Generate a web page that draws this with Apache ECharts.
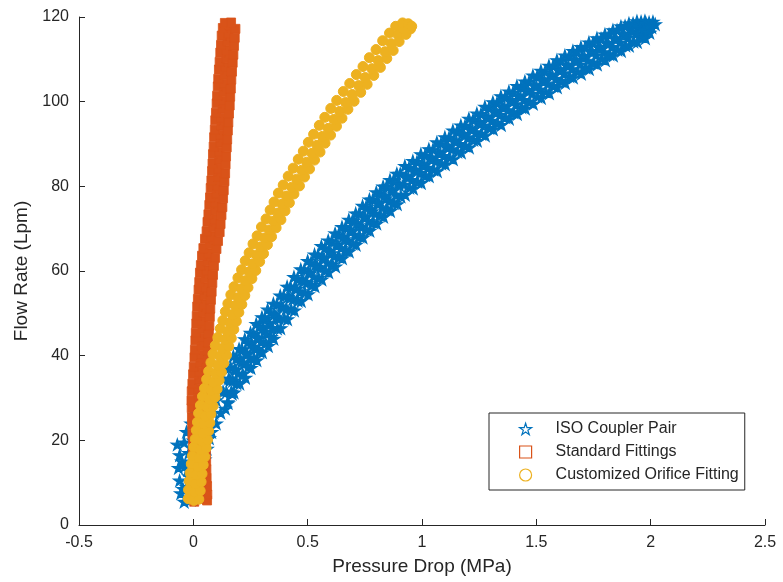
<!DOCTYPE html>
<html>
<head>
<meta charset="utf-8">
<script src="https://cdn.jsdelivr.net/npm/echarts/dist/echarts.min.js"></script>
<style>html,body{margin:0;padding:0;background:#fff;}#chart{width:783px;height:582px;}</style>
</head>
<body>
<div id="chart"></div>
<script>
// ---- data: [pressure drop (MPa), flow rate (Lpm)] ----
const seriesNames = ['ISO Coupler Pair', 'Standard Fittings', 'Customized Orifice Fitting'];

const isoData = [
[-0.04,5.5],[-0.01,6],[-0.055,7.5],[0.0,8],[-0.03,9],[0.02,10],[-0.06,10.5],[-0.02,11.5],[0.03,12.5],[-0.065,13.5],
[-0.035,14],[0.01,14.5],[0.05,15.5],[-0.06,16.5],[-0.02,17],[0.03,17.5],[0.06,18],[-0.07,19],[-0.04,19.5],[0.0,20],
[0.07,20.5],[-0.03,22],[0.02,22.5],[0.08,22],[-0.01,24],[0.05,24.5],[0.1,24],[0.01,26.5],[0.07,27],[0.12,26.5],
[0.04,28.5],[0.1,29.5],[0.15,29],[0.07,31],[0.13,31.5],[0.17,31],
[-0.045,8.5],[-0.05,15],[-0.025,13],[0.04,21],[0.09,26.5],[0.14,27.5],[0.11,32],[0.13,34.5],
[0.15,37.1],[0.155,34.6],[0.145,31.4],[0.152,28.8],
[0.163,37.3],[0.16,34.2],[0.166,31.5],
[0.175,39.9],[0.18,36.7],[0.172,34.1],[0.178,31.3],
[0.188,39.4],[0.185,36.6],[0.19,33.5],
[0.2,41.6],[0.205,39.1],[0.196,35.8],[0.203,33.4],
[0.213,41.5],[0.21,38.4],[0.216,35.7],
[0.225,43.9],[0.23,40.6],[0.221,38.1],[0.228,34.8],
[0.238,43.2],[0.235,40.5],[0.24,37.4],
[0.25,45.4],[0.255,42.9],[0.246,39.6],[0.252,37.1],
[0.263,45.1],[0.26,42.1],[0.266,39.4],
[0.275,47.5],[0.28,44.2],[0.271,41.6],[0.278,38.9],
[0.288,46.8],[0.285,44.1],[0.29,41.0],
[0.3,49.1],[0.305,46.6],[0.296,43.3],[0.302,40.8],
[0.313,48.7],[0.31,45.7],[0.316,43.0],
[0.325,50.9],[0.33,47.7],[0.321,45.1],[0.328,42.3],
[0.338,50.2],[0.335,47.5],[0.34,44.4],
[0.35,52.3],[0.355,49.8],[0.346,46.5],[0.352,44.0],
[0.365,52.1],[0.362,49.1],[0.368,46.4],
[0.38,54.2],[0.385,51.6],[0.376,48.8],[0.382,46.5],
[0.395,54.1],[0.392,51.4],[0.398,48.8],
[0.41,56.3],[0.415,53.9],[0.406,51.1],[0.412,48.6],
[0.425,56.3],[0.422,53.6],[0.428,50.9],
[0.44,58.6],[0.445,55.8],[0.436,53.4],[0.442,50.7],
[0.455,58.2],[0.452,55.8],[0.458,53.0],
[0.47,60.4],[0.475,58.0],[0.466,55.2],[0.472,52.9],
[0.485,60.3],[0.482,57.5],[0.488,54.9],
[0.5,62.4],[0.505,59.6],[0.496,57.2],[0.502,54.5],
[0.515,62.0],[0.512,59.5],[0.518,56.7],
[0.53,63.9],[0.535,61.5],[0.526,58.7],[0.532,56.4],
[0.545,63.8],[0.542,61.0],[0.548,58.4],
[0.56,65.9],[0.565,63.1],[0.556,60.7],[0.562,58.0],
[0.575,65.4],[0.572,62.9],[0.578,60.1],
[0.59,67.2],[0.595,64.8],[0.586,62.0],[0.592,59.7],
[0.605,67.0],[0.602,64.2],[0.608,61.6],
[0.62,68.9],[0.625,66.2],[0.616,63.7],[0.622,61.1],
[0.635,68.6],[0.632,66.1],[0.638,63.3],
[0.65,70.4],[0.655,68.1],[0.646,65.4],[0.652,63.0],
[0.665,70.3],[0.662,67.5],[0.668,64.9],
[0.68,72.1],[0.685,69.5],[0.676,67.1],[0.682,64.6],
[0.695,71.8],[0.692,69.3],[0.698,66.5],
[0.71,73.6],[0.715,71.3],[0.706,68.5],[0.712,66.2],
[0.725,73.6],[0.722,70.8],[0.728,68.2],
[0.74,75.4],[0.745,72.8],[0.736,70.4],[0.742,67.9],
[0.755,75.1],[0.752,72.6],[0.758,69.8],
[0.77,76.9],[0.775,74.6],[0.766,71.8],[0.772,69.5],
[0.785,76.9],[0.782,74.1],[0.788,71.5],
[0.8,78.6],[0.805,76.1],[0.796,73.6],[0.802,71.2],
[0.815,78.4],[0.812,75.9],[0.818,73.1],
[0.83,80.0],[0.835,77.8],[0.826,75.0],[0.832,72.8],
[0.845,80.0],[0.842,77.2],[0.848,74.6],
[0.86,81.5],[0.865,79.1],[0.856,76.7],[0.862,74.2],
[0.875,81.4],[0.872,78.9],[0.878,76.1],
[0.89,83.0],[0.895,80.7],[0.886,78.0],[0.892,75.8],
[0.905,83.0],[0.902,80.2],[0.908,77.6],
[0.925,84.8],[0.93,82.4],[0.921,80.4],[0.927,78.0],
[0.943,84.4],[0.94,82.1],[0.946,79.7],
[0.96,86.0],[0.965,83.9],[0.956,81.5],[0.962,79.5],
[0.978,85.8],[0.975,83.5],[0.981,81.1],
[0.995,87.6],[1.0,85.2],[0.991,83.2],[0.997,80.8],
[1.013,87.3],[1.01,85.0],[1.016,82.6],
[1.03,88.8],[1.035,86.8],[1.026,84.4],[1.032,82.4],
[1.048,88.7],[1.045,86.4],[1.051,84.0],
[1.065,90.4],[1.07,88.0],[1.061,86.0],[1.067,83.6],
[1.083,90.1],[1.08,87.8],[1.086,85.4],
[1.1,91.6],[1.105,89.6],[1.096,87.2],[1.102,85.2],
[1.118,91.5],[1.115,89.2],[1.121,86.8],
[1.135,93.2],[1.14,90.8],[1.131,88.8],[1.137,86.4],
[1.153,92.9],[1.15,90.6],[1.156,88.2],
[1.17,94.4],[1.175,92.4],[1.166,90.0],[1.172,88.0],
[1.188,94.3],[1.185,92.0],[1.191,89.6],
[1.205,96.0],[1.21,93.6],[1.201,91.6],[1.207,89.2],
[1.223,95.7],[1.22,93.4],[1.226,91.0],
[1.24,97.2],[1.245,95.2],[1.236,92.8],[1.242,90.8],
[1.258,97.1],[1.255,94.8],[1.261,92.4],
[1.275,98.8],[1.28,96.4],[1.271,94.4],[1.277,92.0],
[1.293,98.5],[1.29,96.2],[1.296,93.8],
[1.31,99.9],[1.315,97.9],[1.306,95.5],[1.312,93.5],
[1.328,99.7],[1.325,97.4],[1.331,95.0],
[1.345,101.3],[1.35,98.9],[1.341,96.9],[1.347,94.5],
[1.363,101.0],[1.36,98.7],[1.366,96.3],
[1.38,102.4],[1.385,100.4],[1.376,98.0],[1.382,96.0],
[1.398,102.2],[1.395,99.9],[1.401,97.5],
[1.415,103.7],[1.42,101.4],[1.411,99.4],[1.417,97.1],
[1.433,103.4],[1.43,101.1],[1.436,98.7],
[1.45,104.8],[1.455,102.8],[1.446,100.4],[1.452,98.4],
[1.468,104.7],[1.465,102.4],[1.471,100.0],
[1.485,106.2],[1.49,103.9],[1.481,101.9],[1.487,99.5],
[1.503,105.9],[1.5,103.6],[1.506,101.2],
[1.52,107.3],[1.525,105.3],[1.516,102.9],[1.522,100.9],
[1.538,107.1],[1.535,104.8],[1.541,102.4],
[1.555,108.5],[1.56,106.3],[1.551,104.3],[1.557,102.0],
[1.573,108.4],[1.57,106.1],[1.576,103.7],
[1.59,109.8],[1.595,107.7],[1.586,105.4],[1.592,103.4],
[1.608,109.6],[1.605,107.3],[1.611,104.9],
[1.625,110.9],[1.63,108.7],[1.621,106.7],[1.627,104.4],
[1.643,110.7],[1.64,108.4],[1.646,106.0],
[1.66,112.0],[1.665,110.0],[1.656,107.7],[1.662,105.7],
[1.678,111.8],[1.675,109.5],[1.681,107.1],
[1.695,112.9],[1.7,110.8],[1.691,108.8],[1.697,106.6],
[1.713,112.8],[1.71,110.5],[1.716,108.1],
[1.73,114.0],[1.735,112.0],[1.726,109.7],[1.732,107.7],
[1.748,113.9],[1.745,111.6],[1.751,109.2],
[1.765,115.0],[1.77,113.0],[1.761,111.0],[1.767,108.8],
[1.783,114.9],[1.78,112.6],[1.786,110.2],
[1.8,115.9],[1.805,113.9],[1.796,111.7],[1.802,109.8],
[1.818,115.9],[1.815,113.6],[1.821,111.2],
[1.835,116.9],[1.84,115.0],[1.831,112.9],[1.837,110.9],
[1.853,116.9],[1.85,114.7],[1.856,112.3],
[1.87,117.8],[1.875,116.1],[1.866,114.0],[1.872,112.0],
[1.888,117.9],[1.885,115.7],[1.891,113.3],
[1.905,118.5],[1.91,117.1],[1.901,115.2],[1.907,113.2],
[1.923,118.5],[1.92,116.6],[1.926,114.2],
[1.94,119.0],[1.945,117.8],[1.936,116.0],[1.942,114.1],
[1.958,118.9],[1.955,117.4],[1.961,115.5],
[1.975,119.1],[1.98,118.4],[1.971,116.9],[1.977,115.0],
[1.993,118.7],[1.99,117.6],[1.996,116.3],
[2.01,118.9],[2.02,118.3],[2.005,117.6]
];

const stdData = [
[0.004,5.5],[0.034,6.2],[0.06,5.8],[0.005,7.6],[0.033,8.3],[0.061,7.2],[0.003,9.4],[0.034,10.3],[0.06,9.2],
[0.002,11.6],[0.031,12.2],[0.058,11.1],[0.0,13.4],[0.03,14.3],[0.057,13.2],[0.001,15.6],[0.029,16.2],[0.056,15.1],
[-0.002,17.4],[0.028,18.3],[0.055,17.2],[-0.001,19.6],[0.027,20.2],[0.054,19.1],[-0.004,21.4],[0.026,22.3],[0.052,21.2],
[-0.005,23.6],[0.024,24.2],[0.051,23.1],[-0.006,25.4],[0.023,26.3],[0.05,25.2],[-0.007,27.6],[0.022,28.2],[0.049,27.1],
[-0.008,29.4],[0.021,30.3],[0.048,29.2],[-0.007,31.6],[0.022,32.2],[0.05,31.1],[-0.004,33.4],[0.025,34.3],[0.052,33.2],
[-0.001,35.6],[0.028,36.2],[0.056,35.1],[0.002,37.4],[0.031,38.3],[0.059,37.2],[0.005,39.6],[0.034,40.2],[0.062,39.1],
[0.007,41.4],[0.036,42.3],[0.064,41.2],[0.009,43.6],[0.038,44.2],[0.066,43.1],[0.011,45.4],[0.04,46.3],[0.068,45.2],
[0.013,47.6],[0.042,48.2],[0.07,47.1],[0.015,49.4],[0.044,50.3],[0.072,49.2],[0.017,51.6],[0.046,52.2],[0.074,51.1],
[0.02,53.4],[0.049,54.3],[0.077,53.2],[0.023,55.6],[0.052,56.2],[0.08,55.1],[0.026,57.4],[0.055,58.3],[0.083,57.2],
[0.029,59.6],[0.058,60.2],[0.086,59.1],[0.033,61.4],[0.062,62.3],[0.09,61.2],[0.038,63.6],[0.067,64.2],[0.095,63.1],
[0.044,65.4],[0.073,66.3],[0.101,65.2],[0.051,67.6],[0.08,68.2],[0.108,67.1],[0.058,69.4],[0.087,70.3],[0.115,69.2],
[0.062,71.6],[0.091,72.2],[0.119,71.1],[0.066,73.4],[0.095,74.3],[0.123,73.2],[0.07,75.6],[0.099,76.2],[0.127,75.1],
[0.073,77.4],[0.102,78.3],[0.13,77.2],[0.076,79.6],[0.105,80.2],[0.133,79.1],[0.079,81.4],[0.108,82.3],[0.136,81.2],
[0.082,83.6],[0.111,84.2],[0.139,83.1],[0.084,85.4],[0.113,86.3],[0.141,85.2],[0.086,87.6],[0.115,88.2],[0.143,87.1],
[0.089,89.4],[0.118,90.3],[0.146,89.2],[0.091,91.6],[0.12,92.2],[0.148,91.1],[0.094,93.4],[0.123,94.3],[0.151,93.2],
[0.096,95.6],[0.125,96.2],[0.153,95.1],[0.099,97.4],[0.128,98.3],[0.156,97.2],[0.102,99.6],[0.131,100.2],[0.159,99.1],
[0.104,101.4],[0.133,102.3],[0.161,101.2],[0.107,103.6],[0.136,104.2],[0.164,103.1],[0.109,105.4],[0.138,106.3],[0.166,105.2],
[0.112,107.6],[0.141,108.2],[0.169,107.1],[0.115,109.4],[0.144,110.3],[0.172,109.2],[0.118,111.6],[0.147,112.2],[0.175,111.1],
[0.121,113.4],[0.15,114.3],[0.178,113.2],[0.124,115.6],[0.153,116.2],[0.181,115.1],[0.129,117.4],[0.158,118.1],[0.184,117.2],
[0.138,118.6],[0.165,118.7]
];

const orificeData = [
[-0.022,6.2],[0.002,5.8],[0.024,6.1],[-0.021,8.3],[0.006,7.8],[0.03,8.1],[-0.018,10.4],[0.01,9.7],[0.034,10.2],
[-0.014,12.3],[0.014,11.8],[0.038,12.1],[-0.009,14.4],[0.019,13.7],[0.043,14.2],[-0.004,16.3],[0.025,15.8],[0.05,16.1],
[0.002,18.4],[0.031,17.7],[0.056,18.2],[0.008,20.3],[0.037,19.8],[0.062,20.1],[0.013,22.4],[0.042,21.7],[0.067,22.2],
[0.018,24.3],[0.047,23.8],[0.072,24.1],[0.023,26.4],[0.052,25.7],[0.077,26.2],[0.031,28.3],[0.06,27.8],[0.086,28.1],
[0.04,30.4],[0.069,29.7],[0.095,30.2],[0.049,32.3],[0.078,31.8],[0.104,32.1],[0.058,34.4],[0.087,33.7],[0.113,34.2],
[0.067,36.3],[0.097,35.8],[0.123,36.1],[0.077,38.4],[0.107,37.7],[0.133,38.2],[0.086,40.4],[0.117,39.8],[0.145,40.1],
[0.096,42.4],[0.127,41.7],[0.155,42.2],[0.107,44.3],[0.138,43.8],[0.166,44.1],[0.118,46.4],[0.149,45.7],[0.177,46.2],
[0.129,48.3],[0.16,47.8],[0.188,48.1],[0.14,50.4],[0.171,49.7],[0.199,50.2],[0.151,52.3],[0.183,51.8],[0.212,52.1],
[0.164,54.4],[0.196,53.7],[0.225,54.2],[0.178,56.3],[0.21,55.8],[0.239,56.1],[0.195,58.4],[0.227,57.7],[0.256,58.2],
[0.211,60.3],[0.244,59.8],[0.273,60.1],[0.227,62.4],[0.26,61.7],[0.29,62.2],[0.244,64.3],[0.277,63.8],[0.307,64.1],
[0.261,66.4],[0.294,65.7],[0.324,66.2],[0.279,68.3],[0.312,67.8],[0.342,68.1],[0.298,70.4],[0.332,69.7],[0.362,70.2],
[0.318,72.3],[0.352,71.8],[0.383,72.1],[0.336,74.4],[0.37,73.7],[0.401,74.2],[0.353,76.3],[0.388,75.8],[0.42,76.1],
[0.372,78.4],[0.407,77.7],[0.44,78.2],[0.393,80.3],[0.43,79.8],[0.464,80.1],[0.415,82.4],[0.452,81.7],[0.486,82.2],
[0.437,84.3],[0.474,83.8],[0.508,84.1],[0.459,86.4],[0.496,85.7],[0.53,86.2],[0.481,88.3],[0.519,87.8],[0.554,88.1],
[0.503,90.4],[0.541,89.7],[0.576,90.2],[0.526,92.3],[0.564,91.8],[0.6,92.1],[0.551,94.4],[0.59,93.7],[0.626,94.2],
[0.575,96.3],[0.614,95.8],[0.65,96.1],[0.601,98.4],[0.64,97.7],[0.676,98.2],[0.627,100.3],[0.666,99.8],[0.703,100.1],
[0.656,102.4],[0.695,101.7],[0.732,102.2],[0.684,104.3],[0.723,103.8],[0.76,104.1],[0.713,106.4],[0.752,105.7],[0.789,106.2],
[0.742,108.3],[0.781,107.8],[0.818,108.1],[0.77,110.4],[0.809,109.7],[0.846,110.2],[0.799,112.3],[0.838,111.8],[0.874,112.1],
[0.828,114.4],[0.866,113.7],[0.9,114.2],[0.858,116.2],[0.895,115.8],[0.93,115.9],[0.885,117.8],[0.916,117.3],[0.95,117.2],
[0.915,118.6],[0.94,118.4],[0.955,117.8]
];

// ---- styling ----
const colors = ['#0072BD', '#D95319', '#EDB120'];
const starPath = 'path://M50 0 L61.17 34.63 L97.55 34.55 L68.07 55.87 L79.39 90.45 L50 69 L20.61 90.45 L31.93 55.87 L2.45 34.55 L38.83 34.63 Z';
const symbols = [starPath, 'rect', 'circle'];
const symbolSizes = [12, 9, 10];
const symbolBorders = [1.2, 0.8, 1];
const FONT = '"Liberation Sans", Arial, Helvetica, sans-serif';
const TXT = '#262626';

const chart = echarts.init(document.getElementById('chart'), null, { renderer: 'canvas' });

const axisCommon = {
  type: 'value',
  nameLocation: 'middle',
  nameTextStyle: { fontFamily: FONT, fontSize: 19, color: TXT },
  axisLine: { show: true, onZero: false, lineStyle: { color: TXT, width: 1 } },
  axisTick: { show: true, inside: true, length: 6, lineStyle: { color: TXT, width: 1 } },
  axisLabel: { fontFamily: FONT, fontSize: 16, color: TXT, margin: 10 },
  splitLine: { show: false }
};

const datasets = [isoData, stdData, orificeData];

chart.setOption({
  animation: false,
  backgroundColor: '#ffffff',
  grid: { left: 79, right: 18, top: 17, bottom: 57, containLabel: false },
  xAxis: Object.assign({}, axisCommon, {
    min: -0.5, max: 2.5, interval: 0.5,
    name: 'Pressure Drop (MPa)', nameGap: 32
  }),
  yAxis: Object.assign({}, axisCommon, {
    min: 0, max: 120, interval: 20,
    name: 'Flow Rate (Lpm)', nameGap: 46
  }),
  legend: {
    orient: 'vertical',
    left: 489, top: 413,
    padding: [8, 6, 7, 30],
    itemWidth: 12, itemHeight: 12, itemGap: 7,
    backgroundColor: '#ffffff',
    borderColor: TXT, borderWidth: 1,
    textStyle: { fontFamily: FONT, fontSize: 16, color: TXT, lineHeight: 16, padding: [0, 0, 0, 19] },
    data: seriesNames.map((n, i) => ({
      name: n,
      icon: symbols[i],
      itemStyle: { color: 'rgba(255,255,255,0)', borderColor: colors[i], borderWidth: 1.2 }
    }))
  },
  series: datasets.map((d, i) => ({
    name: seriesNames[i],
    type: 'scatter',
    data: d,
    symbol: symbols[i],
    symbolSize: symbolSizes[i],
    symbolKeepAspect: true,
    large: false,
    itemStyle: { color: colors[i], borderColor: colors[i], borderWidth: symbolBorders[i], opacity: 1 },
    emphasis: { disabled: true }
  }))
});
</script>
</body>
</html>
